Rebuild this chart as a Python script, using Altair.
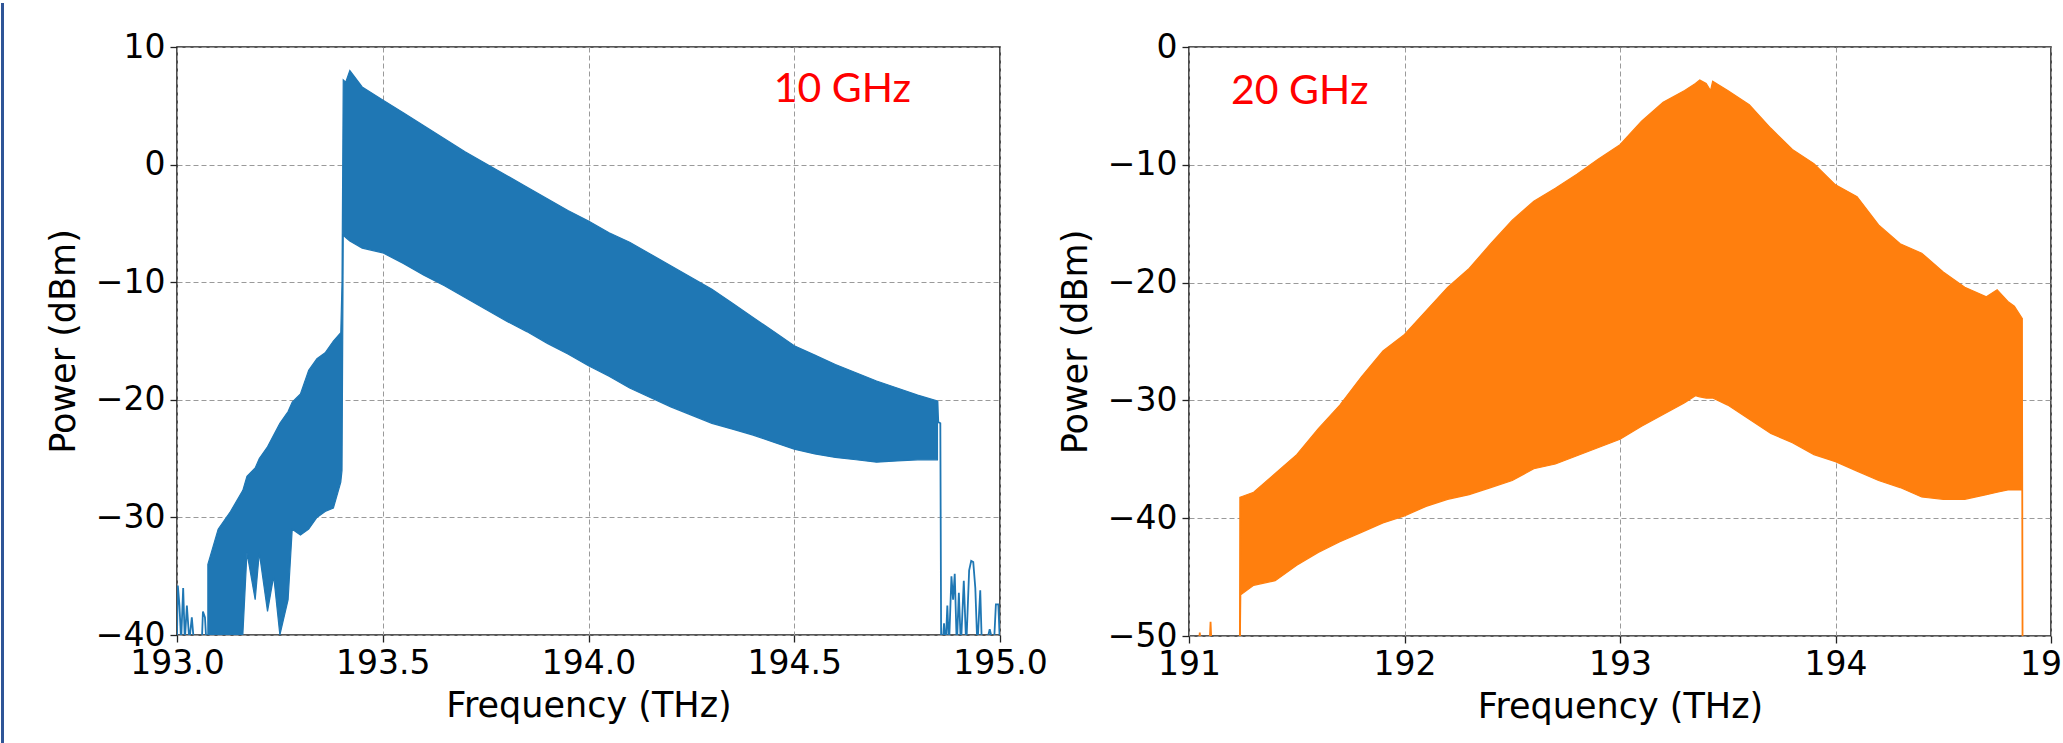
import altair as alt
import pandas as pd

# ---------------- 10 GHz comb (left panel) ----------------
# envelope of the dense comb (upper / lower edge)
L_x = [193.075, 193.10, 193.13, 193.16, 193.17, 193.19, 193.20, 193.22, 193.235, 193.25,
       193.27, 193.28, 193.30, 193.32, 193.34, 193.36, 193.38, 193.398, 193.401, 193.404,
       193.41, 193.42, 193.45, 193.50, 193.55, 193.60, 193.65, 193.70, 193.75, 193.80,
       193.85, 193.90, 193.95, 194.00, 194.05, 194.10, 194.15, 194.20, 194.25, 194.30,
       194.35, 194.40, 194.45, 194.50, 194.55, 194.60, 194.65, 194.70, 194.75, 194.80,
       194.848]
L_upper = [-34.0, -31.0, -29.5, -27.7, -26.5, -25.8, -25.0, -24.0, -23.0, -22.0,
           -21.0, -20.2, -19.5, -17.5, -16.5, -16.0, -15.0, -14.3, -10.0, 7.2,
           7.0, 8.0, 6.6, 5.5, 4.4, 3.3, 2.2, 1.1, 0.1, -0.9,
           -1.9, -2.9, -3.9, -4.8, -5.8, -6.6, -7.6, -8.6, -9.6, -10.6,
           -11.8, -13.0, -14.2, -15.4, -16.2, -17.0, -17.7, -18.4, -19.0, -19.6,
           -20.1]
L_lower = [-40.0, -40.0, -40.0, -40.0, -33.0, -37.0, -33.0, -38.0, -35.0, -40.0,
           -37.0, -31.0, -31.5, -31.0, -30.0, -29.5, -29.2, -27.0, -26.0, -6.0,
           -6.2, -6.5, -7.1, -7.5, -8.4, -9.4, -10.3, -11.3, -12.3, -13.3,
           -14.2, -15.2, -16.1, -17.1, -18.0, -19.0, -19.8, -20.6, -21.3, -22.0,
           -22.5, -23.0, -23.6, -24.2, -24.6, -24.9, -25.1, -25.3, -25.2, -25.1,
           -25.1]
# isolated spikes / edges outside the comb (noise floor)
L_noise_seg = [0] * 16 + [1] * 30
L_noise_x = [193.0, 193.002, 193.006, 193.010, 193.015, 193.019, 193.024, 193.030, 193.036, 193.042,
             193.050, 193.060, 193.063, 193.068, 193.072, 193.075,
             194.848, 194.850, 194.855, 194.857, 194.860, 194.864, 194.868, 194.872, 194.876, 194.882,
             194.886, 194.890, 194.895, 194.900, 194.905, 194.912, 194.918, 194.925, 194.930, 194.935,
             194.940, 194.945, 194.952, 194.956, 194.965, 194.975, 194.985, 194.990, 194.996, 195.0]
L_noise_y = [-40.0, -35.8, -37.5, -40.5, -36.0, -40.5, -37.5, -40.5, -38.5, -41.0,
             -41.0, -41.0, -38.0, -38.5, -41.0, -40.0,
             -20.1, -21.9, -22.0, -41.0, -41.0, -39.0, -41.0, -37.5, -41.0, -35.0,
             -37.0, -34.8, -41.0, -36.4, -41.0, -35.4, -41.0, -34.5, -33.7, -33.8,
             -36.0, -41.0, -36.2, -41.0, -41.0, -39.5, -41.0, -37.4, -37.4, -41.0]

# ---------------- 20 GHz comb (right panel) ----------------
R_x = [191.238, 191.24, 191.30, 191.40, 191.50, 191.60, 191.70, 191.80, 191.90, 192.00,
       192.10, 192.20, 192.30, 192.40, 192.50, 192.60, 192.70, 192.80, 192.90, 193.00,
       193.10, 193.20, 193.30, 193.35, 193.37, 193.40, 193.42, 193.43, 193.50, 193.60,
       193.70, 193.80, 193.90, 194.00, 194.10, 194.20, 194.30, 194.40, 194.50, 194.60,
       194.70, 194.75, 194.80, 194.83, 194.865]
R_upper = [-38.2, -38.2, -37.8, -36.2, -34.6, -32.4, -30.4, -28.0, -25.8, -24.4,
           -22.4, -20.4, -18.8, -16.7, -14.7, -13.1, -12.0, -10.8, -9.5, -8.3,
           -6.3, -4.7, -3.7, -3.1, -2.8, -3.1, -3.7, -2.9, -3.7, -4.9,
           -6.9, -8.7, -9.9, -11.7, -12.7, -15.1, -16.7, -17.5, -19.1, -20.4,
           -21.2, -20.6, -21.6, -22.0, -23.0]
R_lower = [-50.0, -46.5, -45.7, -45.3, -44.0, -42.9, -42.0, -41.2, -40.4, -39.8,
           -39.0, -38.4, -38.0, -37.4, -36.8, -35.8, -35.4, -34.7, -34.0, -33.3,
           -32.2, -31.2, -30.2, -29.6, -29.7, -29.8, -29.8, -29.8, -30.4, -31.6,
           -32.8, -33.6, -34.6, -35.2, -36.0, -36.8, -37.4, -38.2, -38.4, -38.4,
           -38.0, -37.8, -37.6, -37.6, -37.6]
R_noise_seg = [0] * 9 + [1] * 3
R_noise_x = [191.0, 191.045, 191.050, 191.055, 191.095, 191.100, 191.105, 191.236, 191.238,
             194.865, 194.868, 194.87]
R_noise_y = [-51.0, -51.0, -49.7, -51.0, -51.0, -48.8, -51.0, -51.0, -38.2,
             -23.0, -51.0, -51.0]

# ---------------- text ----------------
panel_labels = ["10 GHz", "20 GHz"]
label_x = [194.45, 191.195]
label_y = [5.3, -4.8]
x_title = "Frequency (THz)"
y_title = "Power (dBm)"
# the last tick label of the right panel is cut by the picture's edge ("19")
right_last_tick = 195
right_last_text = "19"

BLUE = "#1f77b4"
ORANGE = "#ff7f0e"
FONT = "DejaVu Sans"


def panel(bx, bu, bl, nseg, nx, ny, color, xdom, ydom, xticks, xfmt, yticks, lab, lx, ly,
          w, h, strip=False, cut=False):
    band = pd.DataFrame({"x": bx, "upper": bu, "lower": bl})
    noise = pd.DataFrame({"x": nx, "y": ny, "seg": nseg, "i": list(range(len(nx)))})
    txt = pd.DataFrame({"x": [lx], "y": [ly], "t": [lab]})

    xs = alt.Scale(domain=xdom, nice=False, zero=False)
    ys = alt.Scale(domain=ydom, nice=False, zero=False)
    if cut:
        test = f"datum.value == {right_last_tick}"
        xax = alt.Axis(
            values=xticks, format=xfmt, title=x_title,
            labelExpr=f"{test} ? '{right_last_text}' : datum.label",
            labelAlign={"condition": {"test": test, "value": "left"}, "value": "center"},
            labelOffset={"condition": {"test": test, "value": -31.5}, "value": 0},
        )
    else:
        xax = alt.Axis(values=xticks, format=xfmt, title=x_title)
    yax = alt.Axis(values=yticks, format="d", title=y_title)

    area = alt.Chart(band).mark_area(
        color=color, stroke=color, strokeWidth=1.2, clip=True, interpolate="linear"
    ).encode(
        x=alt.X("x:Q", scale=xs, axis=xax),
        y=alt.Y("upper:Q", scale=ys, axis=yax),
        y2="lower:Q",
    )
    line = alt.Chart(noise).mark_line(
        color=color, strokeWidth=1.8, clip=True
    ).encode(
        x=alt.X("x:Q", scale=xs, axis=xax),
        y=alt.Y("y:Q", scale=ys, axis=yax),
        detail="seg:N",
        order="i:Q",
    )
    text = alt.Chart(txt).mark_text(
        color="#ff0000", font="Lato", fontSize=41, align="left", baseline="alphabetic"
    ).encode(
        x=alt.X("x:Q", scale=xs, axis=xax),
        y=alt.Y("y:Q", scale=ys, axis=yax),
        text="t:N",
    )
    layers = [area, line, text]
    if strip:
        rule = alt.Chart(txt).mark_rule(color="#2f5597", strokeWidth=3).encode(
            x=alt.value(-174.5), y=alt.value(-44), y2=alt.value(699)
        )
        layers.append(rule)
    return alt.layer(*layers).properties(width=w, height=h)


left = panel(L_x, L_upper, L_lower, L_noise_seg, L_noise_x, L_noise_y, BLUE,
             [193.0, 195.0], [-40, 10], [193.0, 193.5, 194.0, 194.5, 195.0], ".1f",
             [-40, -30, -20, -10, 0, 10], panel_labels[0], label_x[0], label_y[0],
             823, 588, strip=True)
right = panel(R_x, R_upper, R_lower, R_noise_seg, R_noise_x, R_noise_y, ORANGE,
              [191.0, 195.0], [-50, 0], [191, 192, 193, 194, 195], "d",
              [-50, -40, -30, -20, -10, 0], panel_labels[1], label_x[1], label_y[1],
              862, 589, cut=True)

chart = alt.hconcat(left, right, spacing=189, bounds="flush").properties(
    padding={"left": 0, "top": 0, "right": 0, "bottom": 0},
    background="white",
).configure_view(
    stroke="#222222", strokeWidth=1.6
).configure_axis(
    domain=False,
    grid=True,
    gridColor="#9a9a9a",
    gridDash=[5, 3],
    gridWidth=1,
    ticks=True,
    tickColor="#222222",
    tickSize=7,
    tickWidth=1.3,
    labelFont=FONT,
    labelFontSize=33,
    labelColor="#000000",
    labelPadding=5,
    titleFont=FONT,
    titleFontSize=35,
    titleFontWeight="normal",
    titleColor="#000000",
).configure_axisX(
    labelFlush=False, titlePadding=8
).configure_axisY(
    titlePadding=14
)

chart.save("out.html", embed_options={"renderer": "svg", "actions": False})
